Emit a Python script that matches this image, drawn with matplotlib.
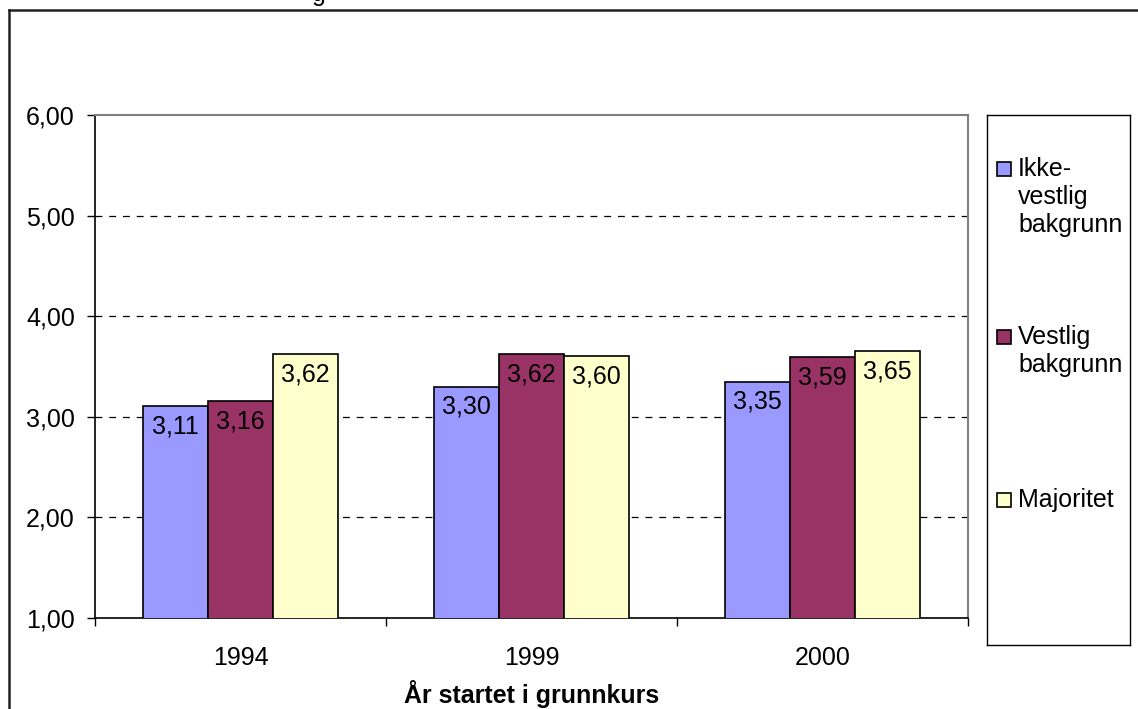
import matplotlib.pyplot as plt
import matplotlib.patches as mpatches
from matplotlib.lines import Line2D
import numpy as np

plt.rcParams['font.family'] = ['Liberation Sans', 'DejaVu Sans']

# data
years = ['1994', '1999', '2000']
series_names = ['Ikke-\nvestlig\nbakgrunn', 'Vestlig\nbakgrunn', 'Majoritet']
ikke_vestlig = [3.11, 3.30, 3.35]
vestlig = [3.16, 3.62, 3.59]
majoritet = [3.62, 3.60, 3.65]
colors = ['#9999FF', '#993366', '#FFFFCC']

W, H = 1138, 709
FS = 18
fig = plt.figure(figsize=(W / 100, H / 100), dpi=100)


def px_box(x0, y0, x1, y1):
    # pixel box (top-left origin) -> figure fraction rect
    return [x0 / W, 1 - y1 / H, (x1 - x0) / W, (y1 - y0) / H]


ax = fig.add_axes(px_box(95, 115, 968, 618))

x = np.arange(len(years))
bw = 0.223
for i, vals in enumerate([ikke_vestlig, vestlig, majoritet]):
    bars = ax.bar(x + (i - 1) * bw, vals, width=bw, bottom=0, color=colors[i],
                  edgecolor='black', linewidth=1.2, zorder=3)
    for rect, v in zip(bars, vals):
        ax.annotate(f'{v:.2f}'.replace('.', ','),
                    xy=(rect.get_x() + rect.get_width() / 2, v),
                    xytext=(0, -6), textcoords='offset points',
                    ha='center', va='top', fontsize=FS, zorder=4)

ax.set_xlim(-0.5, 2.5)
ax.set_ylim(1, 6)
ax.set_yticks([1, 2, 3, 4, 5, 6])
ax.set_yticklabels([f'{v:.2f}'.replace('.', ',') for v in [1, 2, 3, 4, 5, 6]])
ax.set_xticks(x)
ax.set_xticklabels(years)
ax.set_xticks([-0.5, 0.5, 1.5, 2.5], minor=True)
ax.tick_params(axis='x', which='major', length=0, pad=20, labelsize=FS)
ax.tick_params(axis='x', which='minor', length=6, width=1, direction='out')
ax.tick_params(axis='y', length=5.5, width=1, direction='out', pad=9, labelsize=FS)

for yv in [2, 3, 4, 5]:
    ax.axhline(yv, color='black', lw=0.9, linestyle=(0, (5.5, 5.5)), zorder=1)

ax.spines['top'].set_color('#808080')
ax.spines['right'].set_color('#808080')
ax.spines['top'].set_linewidth(1.5)
ax.spines['right'].set_linewidth(1.5)
ax.spines['left'].set_linewidth(1.2)
ax.spines['bottom'].set_linewidth(1.2)

ax.set_xlabel('År startet i grunnkurs', fontsize=FS, fontweight='bold', labelpad=7)

# legend box
lax = fig.add_axes(px_box(987, 115, 1130, 645))
lax.set_xlim(0, 143)
lax.set_ylim(530, 0)
lax.set_xticks([])
lax.set_yticks([])
for sp in lax.spines.values():
    sp.set_linewidth(1.0)
handle_tops = [47, 215, 378]
for name, c, ty in zip(series_names, colors, handle_tops):
    lax.add_patch(mpatches.Rectangle((10, ty), 14, 14, facecolor=c,
                                     edgecolor='black', linewidth=1.2))
    lax.text(31, ty - 5, name, fontsize=FS, va='top', ha='left',
             linespacing=1.22)

# outer chart frame (extends past the image)
fig.add_artist(Line2D([9 / W, 1.0], [1 - 10 / H, 1 - 10 / H],
                      transform=fig.transFigure, color='#222222', lw=1.8))
fig.add_artist(Line2D([9 / W, 9 / W], [0, 1 - 10 / H],
                      transform=fig.transFigure, color='#222222', lw=1.8))

# clipped title fragment at the top edge
fig.text(312 / W, 1 - 0.5 / H, 'g', fontsize=FS, va='baseline', ha='left')

fig.savefig('out.png', dpi=100)
